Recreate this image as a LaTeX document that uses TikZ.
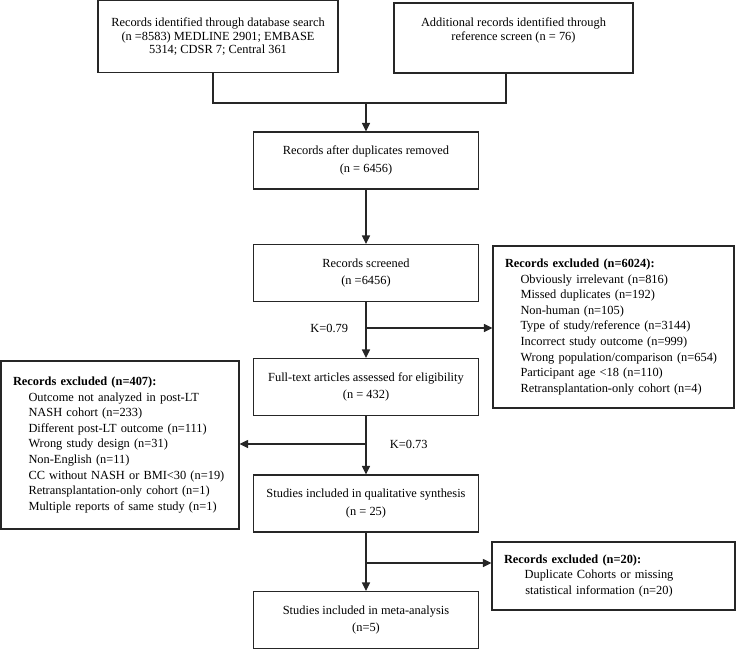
\documentclass[tikz,border=0pt]{standalone}
\usepackage{fontspec}
\setmainfont{Liberation Serif}
\usetikzlibrary{positioning,arrows.meta}
\newcommand{\ind}{\hspace*{15.5pt}}
\tikzset{
	every box/.style={
		draw=black!85,
		align=center,
		minimum width=225pt,
		minimum height=57pt,
		font=\fontsize{12.4}{17.5}\selectfont },
	box excluded/.style={
		align=left,
		inner xsep=12pt,
		font=\fontsize{12.4}{15.6}\selectfont },
}

\begin{document}
\begin{tikzpicture}[x=1pt, y=-1pt, line width=1.1pt, draw=black!85,
	font=\fontsize{12.4}{15.6}\selectfont, >={Triangle[length=8.5pt,width=8pt]}]
	\useasboundingbox (0,0) rectangle (736,649);

		% identification
		\node [every box, minimum width=240pt, minimum height=72pt,
			font=\fontsize{12.4}{13.6}\selectfont] (db) at (218,36.8)
			{Records identified through database search\\(n =8583) MEDLINE 2901; EMBASE\\5314; CDSR 7; Central 361};

		\node [every box, minimum width=239pt, minimum height=70pt] (ref) at (513.5,38) {};
		\node [align=center, font=\fontsize{12.4}{14}\selectfont] (ref-text) at (513.5,30)
			{Additional records identified through\\reference screen (n = 76)};

		% main stages
		\foreach \m/\y/\l in {
			dup/160.5/{Records after duplicates removed\\(n = 6456)},
			screen/273/{Records screened\\(n =6456)},
			full/387/{Full-text articles assessed for eligibility\\(n = 432)},
			qual/503.5/{Studies included in qualitative synthesis\\(n = 25)},
			meta/620/{Studies included in meta-analysis\\(n=5)}}
		\node [every box] (\m) at (366,\y) {\l};

		% exclusions
		\node [every box, box excluded, text width=217pt, minimum width=241pt,
			minimum height=162pt] (excl-screen) at (613.5,327)
			{\textbf{Records excluded (n=6024):}\\
			\ind Obviously irrelevant (n=816)\\
			\ind Missed duplicates (n=192)\\
			\ind Non-human (n=105)\\
			\ind Type of study/reference (n=3144)\\
			\ind Incorrect study outcome (n=999)\\
			\ind Wrong population/comparison (n=654)\\
			\ind Participant age <18 (n=110)\\
			\ind Retransplantation-only cohort (n=4)};

		\node [every box, box excluded, text width=214pt, minimum width=238pt,
			minimum height=168pt] (excl-full) at (120,445)
			{\textbf{Records excluded (n=407):}\\
			\ind Outcome not analyzed in post-LT\\
			\ind NASH cohort (n=233)\\
			\ind Different post-LT outcome (n=111)\\
			\ind Wrong study design (n=31)\\
			\ind Non-English (n=11)\\
			\ind CC without NASH or BMI<30 (n=19)\\
			\ind Retransplantation-only cohort (n=1)\\
			\ind Multiple reports of same study (n=1)};

		\node [every box, box excluded, text width=219pt, minimum width=243pt,
			minimum height=68pt] (excl-qual) at (613.5,576)
			{\textbf{Records excluded (n=20):}\\
			\hspace*{12pt}\makebox[166pt]{Duplicate Cohorts or missing}\\
			\hspace*{12pt}\makebox[166pt]{statistical information (n=20)}};

		% connectors
		\coordinate (join) at (366,103);
		\coordinate (k-1) at (366,328);
		\coordinate (k-2) at (366,444);
		\coordinate (k-3) at (366,563);

		\draw ([xshift=-5pt]db.south) |- (join) -| ([xshift=-7.5pt]ref.south);
		\draw [->] (join) -- (dup);
		\draw [->] (dup) -- (screen);
		\draw [->] (screen) -- (full);
		\draw [->] (full) -- (qual);
		\draw [->] (qual) -- (meta);

		\draw [->] (k-1) -- (k-1 -| excl-screen.west);
		\draw [->] (k-2) -- (k-2 -| excl-full.east);
		\draw [->] (k-3) -- (k-3 -| excl-qual.west);

		\node [left=14pt of k-1] (kappa-1) {K=0.79};
		\node [right=20pt of k-2] (kappa-2) {K=0.73};
	\end{tikzpicture}
\end{document}
